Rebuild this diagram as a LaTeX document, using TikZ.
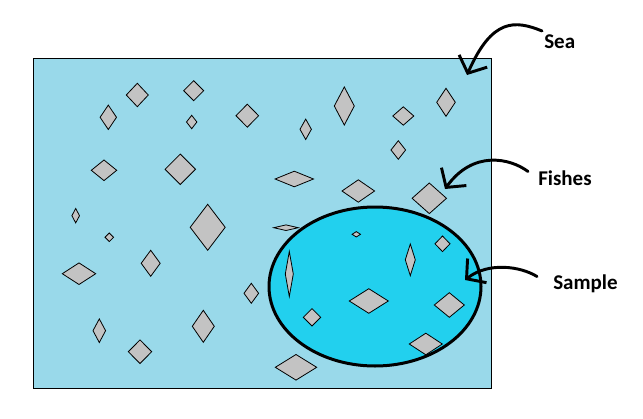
\documentclass[tikz,border=0pt]{standalone}
\usepackage{fontspec}
\setmainfont{Carlito}
\usetikzlibrary{arrows.meta,calc}
\definecolor{seablue}{HTML}{99D9EA}
\definecolor{samplecyan}{HTML}{22D0EE}
\definecolor{fishgray}{HTML}{C3C3C3}

\begin{document}
\begin{tikzpicture}[x=0.75pt,y=-0.75pt,
  fish/.style={draw=black,fill=fishgray,line width=0.6pt},
  tag/.style={inner sep=0pt,anchor=base west,font=\fontsize{15.75}{18}\selectfont\bfseries},
  pointer/.style={line width=2.2pt,line cap=round,-{Straight Barb[length=10pt,width=23pt]}}]
  \useasboundingbox (0,0) rectangle (643,418);
  % the sea and the sample
  \draw[fill=seablue,line width=0.75pt] (33,58) rectangle (491,388);
  \fill[samplecyan] (375,286.5) ellipse [x radius=106,y radius=79.5];
  % fishes
  \foreach \cx/\cy/\hw/\hh in {137.3/95/11/11.7, 193.7/90.7/10/10, 108.3/117.3/8.2/12.2,
      191.7/122/5.2/6.7, 247.3/115.7/11.3/11.5, 104/170.3/12.7/10.3, 180.3/169.3/15.2/15.2,
      75.7/215.7/3.8/7.2, 109.3/237.3/4.3/4.3, 207.7/227.3/17.5/23, 79/273.7/16.7/10.8,
      150.7/263.3/9.5/13, 251.3/293.3/7.3/10, 99.3/330.7/6.3/11.8, 203.3/326.3/11/16,
      140/351.7/11.7/11.8, 344.3/106/10/19, 305.7/129.3/5.7/10.2, 403.3/116/10.5/9.2,
      446/102.3/9.3/14, 398.3/150/7.3/9.3, 294.3/179/19.2/7.8, 358.3/191/16.3/11.2,
      429.3/198.3/17.2/15.3, 286/227.7/12.3/2.8, 356.3/234.3/4.2/2.7, 442.5/243.8/7.5/7.8,
      289.3/274/4/22.5, 410.3/259.8/5/15.8, 368.8/301/19.5/12.3, 449.3/305/15/12.3,
      312/317.3/8.7/8.7, 425.8/344/16.5/10.8, 296/367.3/20.7/12.8}
    \draw[fish] (\cx-\hw,\cy) -- (\cx,\cy-\hh) -- (\cx+\hw,\cy) -- (\cx,\cy+\hh) -- cycle;
  \draw[line width=2.25pt] (375,286.5) ellipse [x radius=106,y radius=79.5];
  % labels
  \node[tag] (sea) at (544,48) {Sea};
  \node[tag] (fishes) at (538,185) {Fishes};
  \node[tag] (sample) at (553,289.5) {Sample};
  \coordinate (seatip) at (467,75);
  \coordinate (fishtip) at (445,189);
  \coordinate (sampletip) at (465,280);
  \draw[pointer] ($(sea.north west)+(-2,-3)$) .. controls (515,20) and (492,18) .. (seatip);
  \draw[pointer] ($(fishes.north west)+(-10,1.5)$) .. controls (510,158) and (473,150) .. (fishtip);
  \draw[pointer] ($(sample.north west)+(-16,2)$) .. controls (520,266) and (488,262) .. (sampletip);
\end{tikzpicture}
\end{document}
